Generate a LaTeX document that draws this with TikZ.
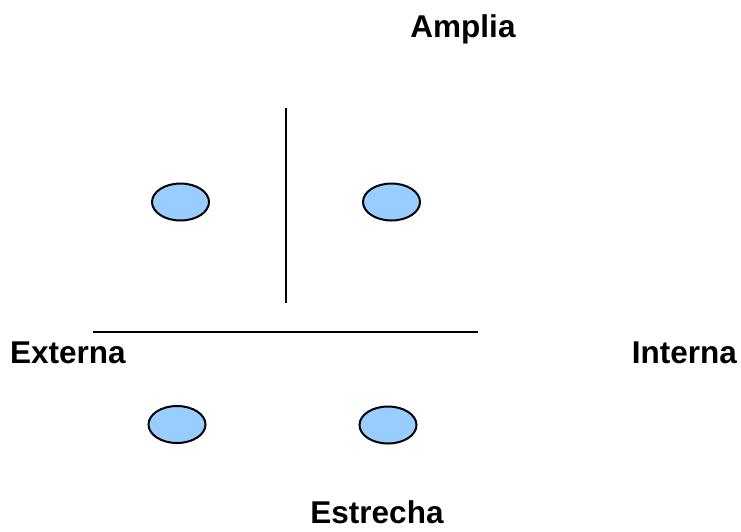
\documentclass[tikz,border=0pt]{standalone}
\usepackage{fontspec}
\setmainfont{Liberation Sans}
\usetikzlibrary{shapes.geometric}
\definecolor{ovalfill}{HTML}{99CCFF}
\begin{document}
\begin{tikzpicture}[x=1pt,y=-1pt,
  lbl/.style={font=\fontsize{31.5}{36}\selectfont\bfseries, inner sep=0pt},
  oval/.style={ellipse, draw=black, line width=2pt, fill=ovalfill, minimum width=57pt, minimum height=37pt, inner sep=0pt},
  axis/.style={draw=black, line width=2pt}]
\useasboundingbox (0,0) rectangle (741,531);
\node[lbl, anchor=base] (amplia) at (463,37) {Amplia};
\node[lbl, anchor=base] (estrecha) at (377,523) {Estrecha};
\node[lbl, anchor=base west] (externa) at (10,363) {Externa};
\node[lbl, anchor=base east] (interna) at (737,363) {Interna};
\coordinate (vtop) at (286,108);
\coordinate (vbot) at (286,303);
\coordinate (hl) at (93,332);
\coordinate (hr) at (478,332);
\draw[axis] (vtop) -- (vbot);
\draw[axis] (hl) -- (hr);
\node[oval] (o1) at (180.5,202) {};
\node[oval] (o2) at (391.5,202) {};
\node[oval] (o3) at (177,424.5) {};
\node[oval] (o4) at (388,425) {};
\end{tikzpicture}
\end{document}
